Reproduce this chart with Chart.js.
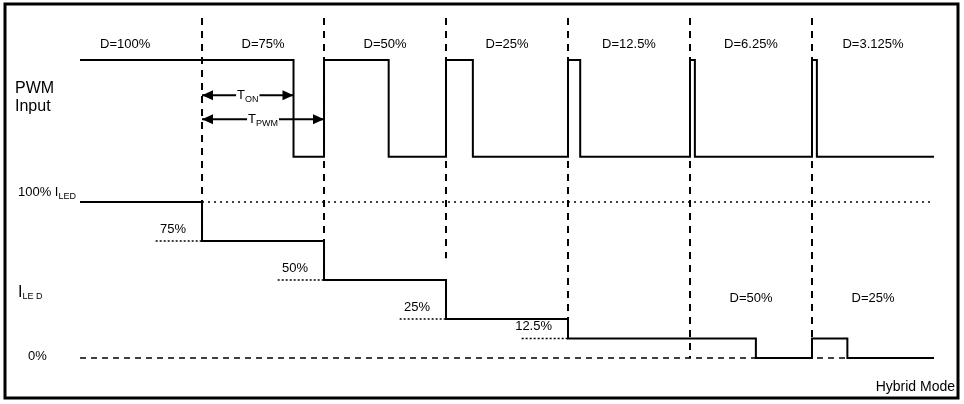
<!DOCTYPE html>
<html>
<head>
<meta charset="utf-8">
<script src="https://cdn.jsdelivr.net/npm/chart.js@4/dist/chart.umd.min.js"></script>
<style>
  html, body { margin: 0; padding: 0; background: #fff; }
  #wrap { width: 964px; height: 404px; position: relative; }
</style>
</head>
<body>
<div id="wrap"><canvas id="c" width="964" height="404"></canvas></div>
<script>
// time in PWM periods, level in % of I_LED (PWM trace drawn above the current trace)
const periodStarts = [0, 1, 2, 3, 4, 5, 6];
const dutyLabels = ["D=100%", "D=75%", "D=50%", "D=25%", "D=12.5%", "D=6.25%", "D=3.125%"];
const duties = [1, 0.75, 0.53, 0.22, 0.1, 0.04, 0.04];
const pwmHigh = 191;
const pwmLow = 129;
const endTime = 7;
const iledLevels = [100, 75, 50, 25, 12.5];
const levelLabels = ["75%", "50%", "25%", "12.5%"];
const hybridDuties = [0.54, 0.29];
const hybridLabels = ["D=50%", "D=25%"];

function buildPwm() {
  const pts = [{ x: 0, y: pwmHigh }];
  periodStarts.forEach((t, i) => {
    pts.push({ x: t, y: pwmHigh });
    if (duties[i] < 1) {
      pts.push({ x: t + duties[i], y: pwmHigh });
      pts.push({ x: t + duties[i], y: pwmLow });
      pts.push({ x: t + 1, y: pwmLow });
      if (i < periodStarts.length - 1) pts.push({ x: t + 1, y: pwmHigh });
    }
  });
  return pts;
}

function buildIled() {
  const pts = [];
  iledLevels.forEach((lvl, i) => {
    pts.push({ x: i, y: lvl });
    pts.push({ x: i + 1, y: lvl });
  });
  // hybrid section: 12.5% level chopped
  pts.push({ x: 5 + hybridDuties[0], y: 12.5 });
  pts.push({ x: 5 + hybridDuties[0], y: 0 });
  pts.push({ x: 6, y: 0 });
  pts.push({ x: 6, y: 12.5 });
  pts.push({ x: 6 + hybridDuties[1], y: 12.5 });
  pts.push({ x: 6 + hybridDuties[1], y: 0 });
  pts.push({ x: endTime, y: 0 });
  return pts;
}

const dividerEnds = [75, 50, 64, 12.5, 0, 0];
const datasets = [
  { data: buildPwm(), borderColor: "#000", borderWidth: 2 },
  { data: buildIled(), borderColor: "#000", borderWidth: 2 },
  { data: [{ x: 1, y: 100 }, { x: endTime, y: 100 }], borderColor: "#000", borderWidth: 1.5, borderDash: [2, 4] },
  { data: [{ x: 0, y: 0 }, { x: endTime, y: 0 }], borderColor: "#000", borderWidth: 1.5, borderDash: [6, 5] }
];
periodStarts.slice(1).forEach((t, i) => {
  datasets.push({ data: [{ x: t, y: 218 }, { x: t, y: dividerEnds[i] }], borderColor: "#000", borderWidth: 2, borderDash: [7, 6] });
});
levelLabels.forEach((lbl, i) => {
  const t = i + 1;
  datasets.push({ data: [{ x: t - 0.38, y: iledLevels[i + 1] }, { x: t, y: iledLevels[i + 1] }], borderColor: "#000", borderWidth: 1.5, borderDash: [2, 2] });
});

const annotate = {
  id: "annotate",
  afterDatasetsDraw(chart) {
    const { ctx, scales: { x, y } } = chart;
    ctx.save();
    ctx.fillStyle = "#000";
    ctx.strokeStyle = "#000";
    ctx.font = "13px 'Liberation Sans', Arial, sans-serif";
    ctx.textBaseline = "middle";
    ctx.textAlign = "center";
    dutyLabels.forEach((lbl, i) => {
      const cx = i === 0 ? periodStarts[i] + 0.37 : periodStarts[i] + 0.5;
      ctx.fillText(lbl, x.getPixelForValue(cx), y.getPixelForValue(201));
    });
    hybridLabels.forEach((lbl, i) => {
      ctx.fillText(lbl, x.getPixelForValue(5.5 + i), y.getPixelForValue(38.5));
    });
    ctx.textAlign = "right";
    levelLabels.forEach((lbl, i) => {
      ctx.fillText(lbl, x.getPixelForValue(i + 1) - 16, y.getPixelForValue(iledLevels[i + 1] + 7.5));
    });
    ctx.font = "14px 'Liberation Sans', Arial, sans-serif";
    ctx.fillText("Hybrid Mode", 955, 387);

    // left labels
    ctx.textAlign = "left";
    ctx.font = "16px 'Liberation Sans', Arial, sans-serif";
    ctx.fillText("PWM", 15, y.getPixelForValue(173));
    ctx.fillText("Input", 15, y.getPixelForValue(161));
    const sub = (base, s, px, py, big) => {
      ctx.font = big + "px 'Liberation Sans', Arial, sans-serif";
      ctx.fillText(base, px, py);
      const w = ctx.measureText(base).width;
      ctx.font = "9px 'Liberation Sans', Arial, sans-serif";
      ctx.fillText(s, px + w, py + 4);
      return w;
    };
    sub("100% I", "LED", 18, y.getPixelForValue(106), 13);
    sub("I", "LE D", 18, y.getPixelForValue(42), 16);
    ctx.font = "13px 'Liberation Sans', Arial, sans-serif";
    ctx.fillText("0%", 28, y.getPixelForValue(1));

    // T_ON and T_PWM arrows
    const arrow = (t0, t1, lvl, base, s) => {
      const x0 = x.getPixelForValue(t0), x1 = x.getPixelForValue(t1), py = y.getPixelForValue(lvl);
      ctx.lineWidth = 2;
      ctx.beginPath(); ctx.moveTo(x0, py); ctx.lineTo(x1, py); ctx.stroke();
      [[x0, 1], [x1, -1]].forEach(([ax, d]) => {
        ctx.beginPath(); ctx.moveTo(ax, py); ctx.lineTo(ax + d * 11, py - 5); ctx.lineTo(ax + d * 11, py + 5); ctx.closePath(); ctx.fill();
      });
      ctx.font = "13px 'Liberation Sans', Arial, sans-serif";
      const w1 = ctx.measureText(base).width;
      ctx.font = "9px 'Liberation Sans', Arial, sans-serif";
      const w2 = ctx.measureText(s).width;
      const cx = (x0 + x1) / 2 - (w1 + w2) / 2;
      ctx.fillStyle = "#fff";
      ctx.fillRect(cx - 1, py - 8, w1 + w2 + 2, 14);
      ctx.fillStyle = "#000";
      sub(base, s, cx, py, 13);
    };
    arrow(1, 1 + duties[1], 168.5, "T", "ON");
    arrow(1, 2, 153, "T", "PWM");

    // frame
    ctx.lineWidth = 3;
    ctx.strokeRect(5, 4, 953, 394);
    ctx.restore();
  }
};

new Chart(document.getElementById("c"), {
  type: "line",
  data: { datasets },
  options: {
    responsive: false,
    animation: false,
    layout: { padding: 0 },
    elements: { point: { radius: 0 }, line: { tension: 0, fill: false } },
    scales: {
      x: { type: "linear", display: false, min: -0.656, max: 7.246 },
      y: { type: "linear", display: false, min: -29.5, max: 229.5 }
    },
    plugins: { legend: { display: false }, tooltip: { enabled: false } }
  },
  plugins: [annotate]
});
</script>
</body>
</html>
